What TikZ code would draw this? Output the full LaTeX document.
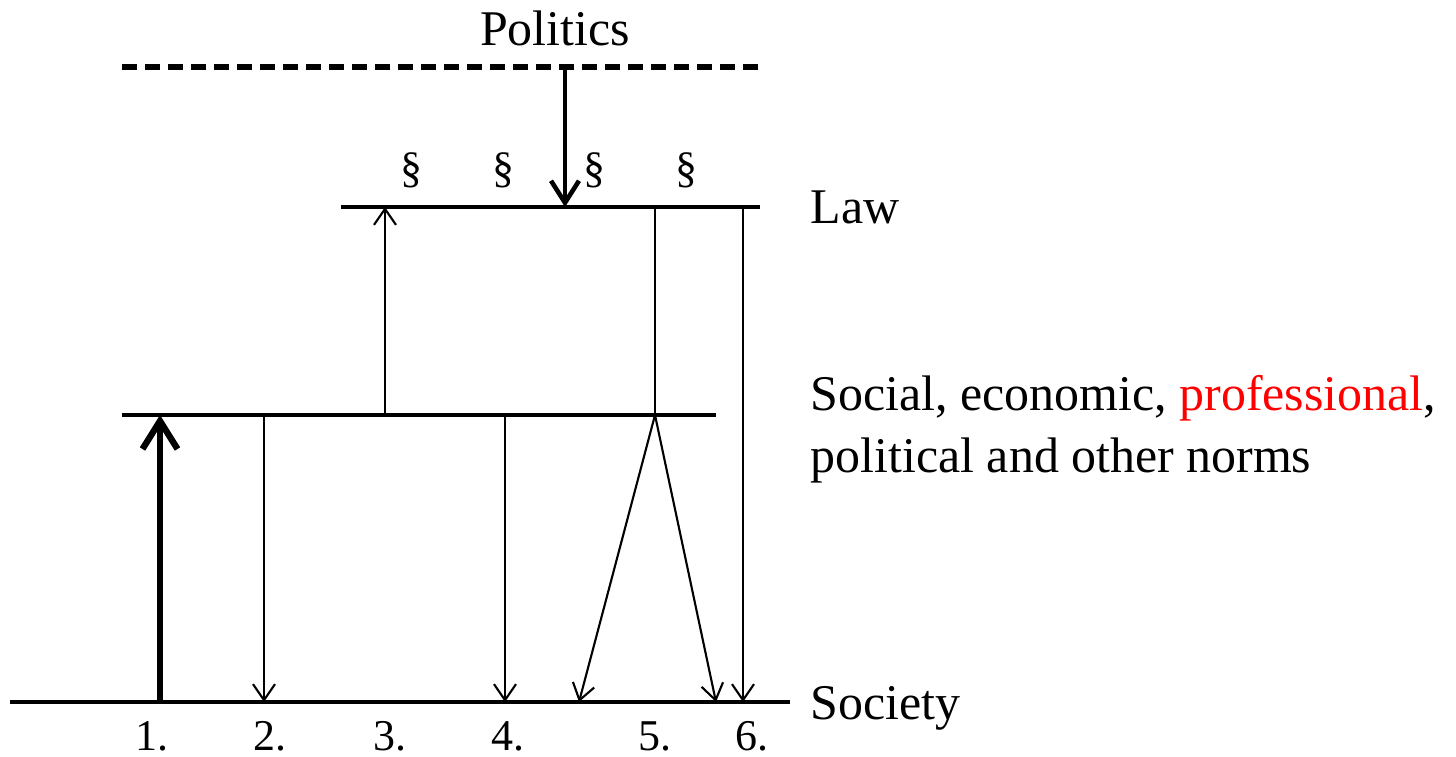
\documentclass[tikz,border=0pt]{standalone}
\usepackage{fontspec}
\setmainfont{Liberation Serif}
\usetikzlibrary{arrows.meta}

\begin{document}
\begin{tikzpicture}[
  x=0.01cm, y=-0.01cm,
  lvl/.style={line width=1.4pt},
  arr/.style={-{Straight Barb[length=1.6mm, width=2.2mm]}, line width=0.6pt},
  bigarr/.style={-{Straight Barb[length=2.8mm, width=3.5mm]}, line width=1.8pt},
  polarr/.style={-{Straight Barb[length=2.2mm, width=2.8mm]}, line width=1.3pt},
  lbl/.style={font=\fontsize{14.2}{17.6}\selectfont, inner sep=0pt,
              anchor=base west, align=left},
  sec/.style={font=\fontsize{12.5}{15}\selectfont, inner sep=0pt},
  num/.style={font=\fontsize{12.5}{15}\selectfont, inner sep=0pt, anchor=base}
]
\useasboundingbox (0,0) rectangle (1456,757);

% Levels
\coordinate (polL) at (122,67);  \coordinate (polR) at (762,67);
\coordinate (lawL) at (341,207); \coordinate (lawR) at (760,207);
\coordinate (nrmL) at (122,415); \coordinate (nrmR) at (716,415);
\coordinate (socL) at (10,702);  \coordinate (socR) at (790,702);

\draw[lvl, line width=1.5pt, dash pattern=on 0.15cm off 0.08cm] (polL) -- (polR);
\draw[lvl] (lawL) -- (lawR);
\draw[lvl] (nrmL) -- (nrmR);
\draw[lvl] (socL) -- (socR);

% Labels
\node[lbl, anchor=base] at (555,45) (politics) {Politics};
\node[lbl] at (810,223) (law) {Law};
\node[lbl] at (810,472) (norms)
  {Social, economic, \textcolor{red}{professional},\\political and other norms};
\node[lbl] at (810,719) (society) {Society};

% Paragraph signs
\node[sec] at (411,170) (p1) {\S};
\node[sec] at (503,170) (p2) {\S};
\node[sec] at (594,170) (p3) {\S};
\node[sec] at (686,170) (p4) {\S};

% Numbers
\node[num] at (152,750) (n1) {1.};
\node[num] at (270,750) (n2) {2.};
\node[num] at (390,750) (n3) {3.};
\node[num] at (508,750) (n4) {4.};
\node[num] at (655,750) (n5) {5.};
\node[num] at (752,750) (n6) {6.};

% Points on the levels
\coordinate (polA) at (565,67);  \coordinate (lawA) at (565,207);
\coordinate (s1) at (160,702);   \coordinate (m1) at (160,415);
\coordinate (m2) at (264,415);   \coordinate (s2) at (264,702);
\coordinate (m3) at (385,415);   \coordinate (l3) at (385,207);
\coordinate (m4) at (505,415);   \coordinate (s4) at (505,702);
\coordinate (l5) at (655,207);   \coordinate (m5) at (655,415);
\coordinate (s5a) at (579,702);  \coordinate (s5b) at (716,702);
\coordinate (l6) at (743,207);   \coordinate (s6) at (743,702);

% Arrows
\draw[polarr] (polA) -- (lawA);
\draw[bigarr] (s1) -- (m1);
\draw[arr] (m2) -- (s2);
\draw[arr] (m3) -- (l3);
\draw[arr] (m4) -- (s4);
\draw[line width=0.6pt] (l5) -- (m5);
\draw[arr] (m5) -- (s5a);
\draw[arr] (m5) -- (s5b);
\draw[arr] (l6) -- (s6);

\end{tikzpicture}
\end{document}
